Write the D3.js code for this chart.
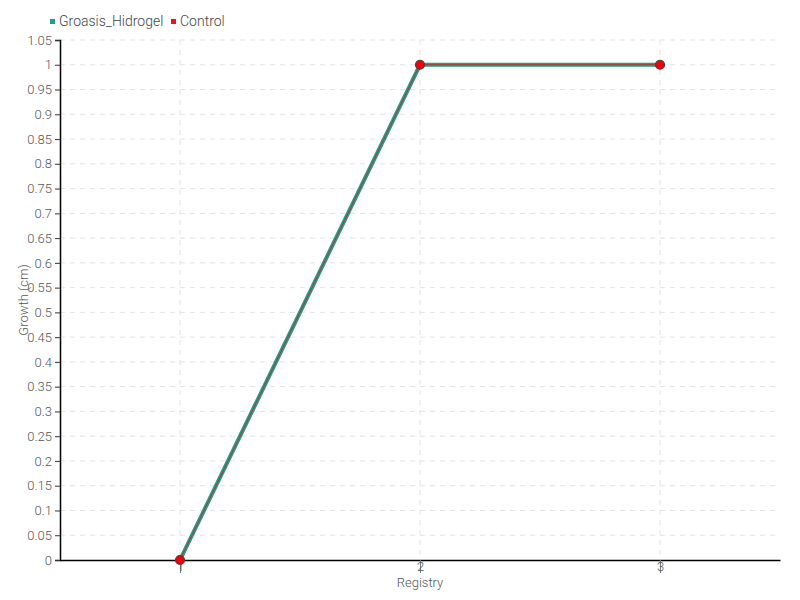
<!DOCTYPE html>
<html><head><meta charset="utf-8">
<script src="https://cdn.jsdelivr.net/npm/d3@7"></script>
<style>
body{margin:0;background:#fff;}
text{font-family:Roboto,"DejaVu Sans",sans-serif;font-weight:300;}
</style></head>
<body><svg id="c" width="800" height="600"></svg>
<script>
const registry = [1, 2, 3];
const groasis = [0, 1, 1];
const control = [0, 1, 1];
const yTicks = d3.range(0, 22).map(i => +(i * 0.05).toFixed(2));
const seriesNames = ["Groasis_Hidrogel", "Control"];
const seriesColors = ["#1f9e84", "#ee1122"];

const svg = d3.select("#c");
const m = {l:60, r:20, t:40, b:40};
const W = 800, H = 600;
const x = d3.scaleLinear().domain([0.5, 3.5]).range([m.l, W - m.r]);
const y = d3.scaleLinear().domain([0, 1.05]).range([H - m.b, m.t]);

// grid
svg.append("g").selectAll("line").data(yTicks.slice(1)).join("line")
  .attr("x1", m.l).attr("x2", W - m.r).attr("y1", d => y(d)).attr("y2", d => y(d))
  .attr("stroke", "#e3e3e3").attr("stroke-dasharray", "5,5");
svg.append("g").selectAll("line").data(registry).join("line")
  .attr("x1", d => x(d)).attr("x2", d => x(d)).attr("y1", m.t).attr("y2", H - m.b)
  .attr("stroke", "#e3e3e3").attr("stroke-dasharray", "5,5");

// axes
const ya = svg.append("g").attr("transform", `translate(${m.l},0)`)
  .call(d3.axisLeft(y).tickValues(yTicks).tickFormat(d => d3.format("~g")(d)).tickSize(5).tickPadding(3));
ya.select(".domain").attr("stroke", "#000").attr("stroke-width", 1.5);
ya.selectAll(".tick line").attr("stroke", "#333");
ya.selectAll("text").attr("fill", "#555").style("font-size", "13px");

const xa = svg.append("g").attr("transform", `translate(0,${H - m.b})`)
  .call(d3.axisBottom(x).tickValues(registry).tickFormat(d3.format("d")).tickSize(13).tickSizeOuter(0).tickPadding(-11));
xa.select(".domain").attr("stroke", "#000").attr("stroke-width", 1.5);
xa.selectAll(".tick line").attr("stroke", "#777");
xa.selectAll("text").attr("fill", "#555").style("font-size", "13px");

// labels
svg.append("text").attr("x", x(2)).attr("y", 587).attr("text-anchor", "middle")
  .attr("fill", "#555").style("font-size", "13px").text("Registry");
svg.append("text").attr("transform", `translate(28,${(m.t + H - m.b)/2}) rotate(-90)`)
  .attr("text-anchor", "middle").attr("fill", "#555").style("font-size", "13px").text("Growth (cm)");

// lines
const line = d3.line().x((d, i) => x(registry[i])).y(d => y(d));
svg.append("path").datum(groasis).attr("d", line).attr("fill", "none")
  .attr("stroke", seriesColors[0]).attr("stroke-width", 4);
svg.append("path").datum(control).attr("d", line).attr("fill", "none")
  .attr("stroke", seriesColors[1]).attr("stroke-width", 1).attr("stroke-opacity", 0.8);

svg.append("g").selectAll("circle").data(control).join("circle")
  .attr("cx", (d, i) => x(registry[i])).attr("cy", d => y(d)).attr("r", 4.5)
  .attr("fill", "#ee0011").attr("stroke", "#5a3a30").attr("stroke-width", 1.2);

// legend
const lg = svg.append("g");
const lx = [50, 171];
seriesNames.forEach((n, i) => {
  lg.append("rect").attr("x", lx[i]).attr("y", 19).attr("width", 5).attr("height", 5).attr("fill", seriesColors[i]);
  lg.append("text").attr("x", lx[i] + 9).attr("y", 26).attr("fill", "#444").style("font-size", "14px").text(n);
});
</script></body></html>
